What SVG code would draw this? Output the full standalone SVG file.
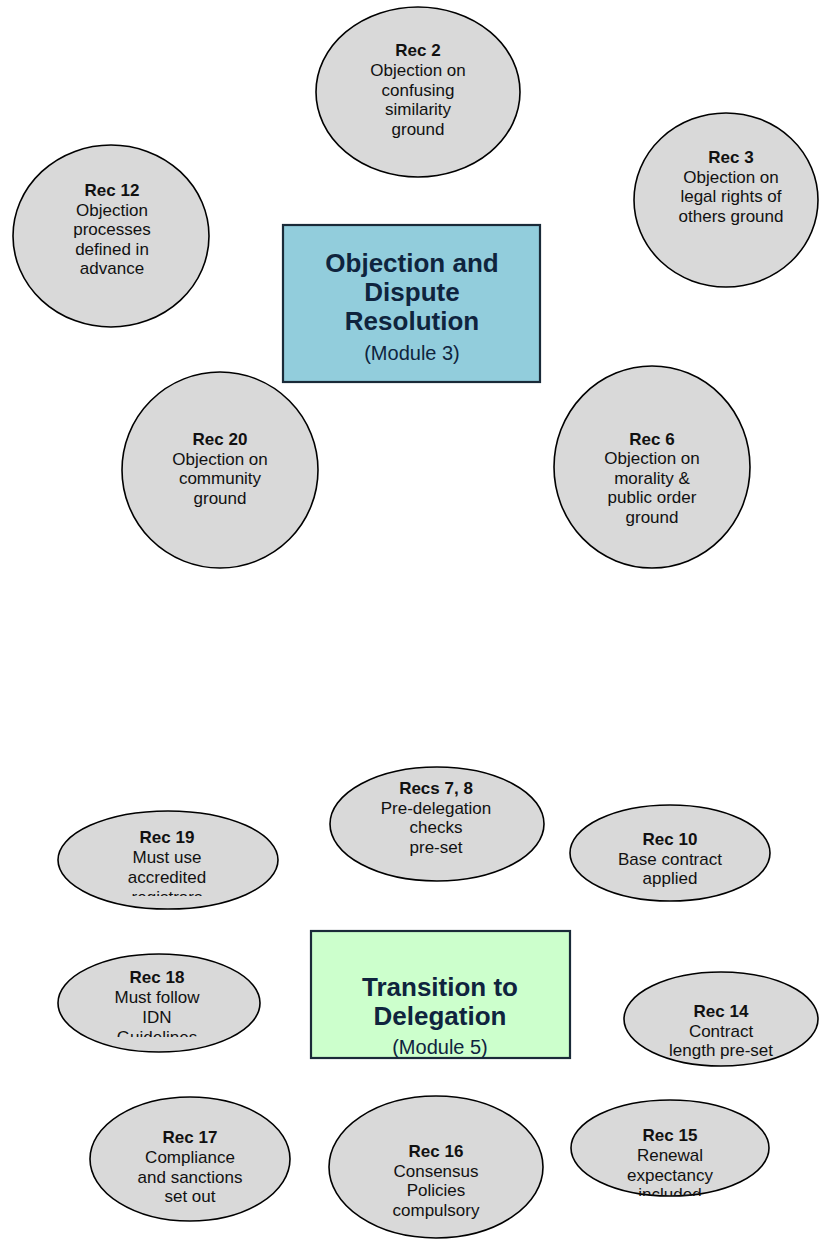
<svg xmlns="http://www.w3.org/2000/svg" width="819" height="1241" viewBox="0 0 819 1241">
<style>
  .bubble { fill: #D9D9D9; stroke: #000; stroke-width: 1.6; }
  .t { font-family: "Liberation Sans", Arial, sans-serif; font-size: 17px; fill: #111; text-anchor: middle; }
  .b { font-weight: bold; }
  .hub { stroke: #1A2A38; stroke-width: 2.2; }
  .ht { font-family: "Liberation Sans", Arial, sans-serif; font-size: 26px; font-weight: bold; fill: #0F243E; text-anchor: middle; }
  .hs { font-family: "Liberation Sans", Arial, sans-serif; font-size: 20px; fill: #0F243E; text-anchor: middle; }
</style>
<defs>
  <clipPath id="c19"><rect x="0" y="800" width="819" height="96"/></clipPath>
  <clipPath id="c18"><rect x="0" y="940" width="819" height="97"/></clipPath>
  <clipPath id="c15"><rect x="0" y="1090" width="819" height="106"/></clipPath>
  <clipPath id="cT"><rect x="311" y="931" width="259" height="127"/></clipPath>
</defs>
<rect width="819" height="1241" fill="#fff"/>
<g id="connectors"></g>

<g id="hub-module3">
  <rect class="hub" x="283" y="225" width="257" height="157" fill="#92CDDC"/>
  <text class="ht" x="412" y="272">Objection and</text>
  <text class="ht" x="412" y="301">Dispute</text>
  <text class="ht" x="412" y="330">Resolution</text>
  <text class="hs" x="412" y="360">(Module 3)</text>
</g>

<g id="rec2">
  <ellipse class="bubble" cx="418" cy="92" rx="102" ry="85"/>
  <text class="t b" x="418" y="56">Rec 2</text>
  <text class="t" x="418" y="76">Objection on</text>
  <text class="t" x="418" y="95.5">confusing</text>
  <text class="t" x="418" y="115">similarity</text>
  <text class="t" x="418" y="134.5">ground</text>
</g>

<g id="rec12">
  <ellipse class="bubble" cx="111" cy="236" rx="98" ry="91"/>
  <text class="t b" x="112" y="196">Rec 12</text>
  <text class="t" x="112" y="215.5">Objection</text>
  <text class="t" x="112" y="235">processes</text>
  <text class="t" x="112" y="254.5">defined in</text>
  <text class="t" x="112" y="274">advance</text>
</g>

<g id="rec3">
  <ellipse class="bubble" cx="726" cy="200" rx="92" ry="87"/>
  <text class="t b" x="731" y="163">Rec 3</text>
  <text class="t" x="731" y="182.5">Objection on</text>
  <text class="t" x="731" y="202">legal rights of</text>
  <text class="t" x="731" y="221.5">others ground</text>
</g>

<g id="rec20">
  <ellipse class="bubble" cx="220" cy="470" rx="98" ry="98"/>
  <text class="t b" x="220" y="445">Rec 20</text>
  <text class="t" x="220" y="464.5">Objection on</text>
  <text class="t" x="220" y="484">community</text>
  <text class="t" x="220" y="503.5">ground</text>
</g>

<g id="rec6">
  <ellipse class="bubble" cx="652" cy="467" rx="98" ry="101"/>
  <text class="t b" x="652" y="444.5">Rec 6</text>
  <text class="t" x="652" y="464">Objection on</text>
  <text class="t" x="652" y="483.5">morality &amp;</text>
  <text class="t" x="652" y="503">public order</text>
  <text class="t" x="652" y="522.5">ground</text>
</g>

<g id="hub-module5">
  <rect class="hub" x="311" y="931" width="259" height="127" fill="#CCFFCC"/>
  <g clip-path="url(#cT)">
    <text class="ht" x="440" y="996">Transition to</text>
    <text class="ht" x="440" y="1025">Delegation</text>
    <text class="hs" x="440" y="1054">(Module 5)</text>
  </g>
</g>

<g id="rec7-8">
  <ellipse class="bubble" cx="437" cy="824" rx="107" ry="57"/>
  <text class="t b" x="436" y="794">Recs 7, 8</text>
  <text class="t" x="436" y="813.5">Pre-delegation</text>
  <text class="t" x="436" y="833">checks</text>
  <text class="t" x="436" y="852.5">pre-set</text>
</g>

<g id="rec10">
  <ellipse class="bubble" cx="670" cy="853" rx="100" ry="48"/>
  <text class="t b" x="670" y="845">Rec 10</text>
  <text class="t" x="670" y="864.5">Base contract</text>
  <text class="t" x="670" y="884">applied</text>
</g>

<g id="rec19">
  <ellipse class="bubble" cx="168" cy="860" rx="110" ry="49"/>
  <g clip-path="url(#c19)">
    <text class="t b" x="167" y="843">Rec 19</text>
    <text class="t" x="167" y="863">Must use</text>
    <text class="t" x="167" y="883">accredited</text>
    <text class="t" x="167" y="903">registrars</text>
  </g>
</g>

<g id="rec18">
  <ellipse class="bubble" cx="159" cy="1003" rx="101" ry="49"/>
  <g clip-path="url(#c18)">
    <text class="t b" x="157" y="983">Rec 18</text>
    <text class="t" x="157" y="1003">Must follow</text>
    <text class="t" x="157" y="1023">IDN</text>
    <text class="t" x="157" y="1043">Guidelines</text>
  </g>
</g>

<g id="rec14">
  <ellipse class="bubble" cx="721" cy="1019" rx="97" ry="47"/>
  <text class="t b" x="721" y="1017">Rec 14</text>
  <text class="t" x="721" y="1037">Contract</text>
  <text class="t" x="721" y="1056">length pre-set</text>
</g>

<g id="rec17">
  <ellipse class="bubble" cx="190" cy="1159" rx="100" ry="62"/>
  <text class="t b" x="190" y="1143">Rec 17</text>
  <text class="t" x="190" y="1163">Compliance</text>
  <text class="t" x="190" y="1182.5">and sanctions</text>
  <text class="t" x="190" y="1202">set out</text>
</g>

<g id="rec16">
  <ellipse class="bubble" cx="436" cy="1167" rx="107" ry="71"/>
  <text class="t b" x="436" y="1157">Rec 16</text>
  <text class="t" x="436" y="1176.5">Consensus</text>
  <text class="t" x="436" y="1196">Policies</text>
  <text class="t" x="436" y="1215.5">compulsory</text>
</g>

<g id="rec15">
  <ellipse class="bubble" cx="670" cy="1148" rx="99" ry="48"/>
  <g clip-path="url(#c15)">
    <text class="t b" x="670" y="1141">Rec 15</text>
    <text class="t" x="670" y="1161">Renewal</text>
    <text class="t" x="670" y="1180.5">expectancy</text>
    <text class="t" x="670" y="1200">included</text>
  </g>
</g>
</svg>
